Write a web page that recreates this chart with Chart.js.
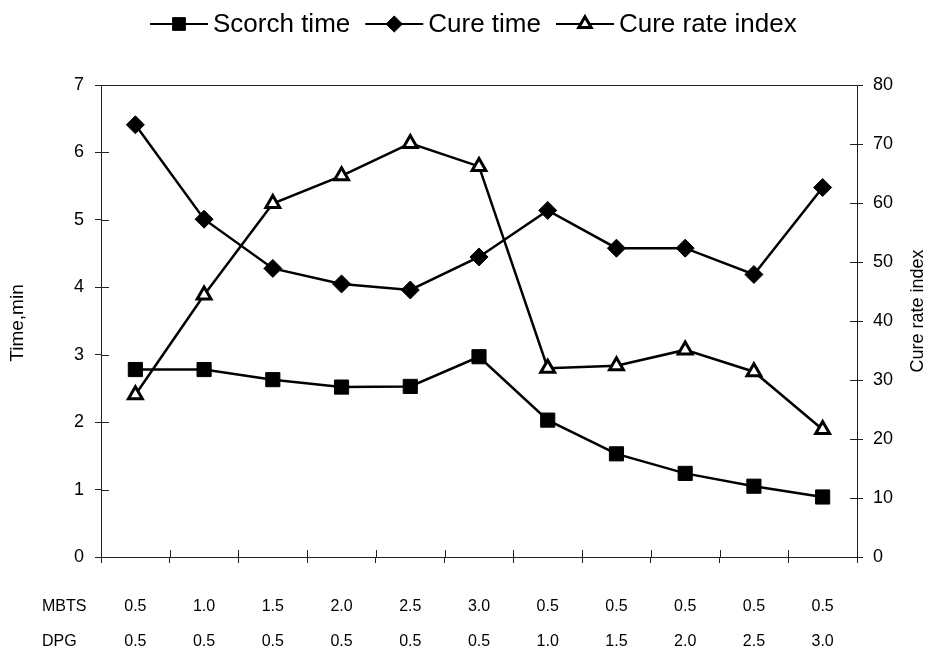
<!DOCTYPE html>
<html>
<head>
<meta charset="utf-8">
<script src="https://cdn.jsdelivr.net/npm/chart.js@4/dist/chart.umd.min.js"></script>
<style>
  html, body { margin: 0; padding: 0; background: #fff; }
  #wrap { width: 931px; height: 659px; position: relative; }
</style>
</head>
<body>
<div id="wrap"><canvas id="c" width="931" height="659"></canvas></div>
<script>
// ---- data ----
const mbts = ['0.5', '1.0', '1.5', '2.0', '2.5', '3.0', '0.5', '0.5', '0.5', '0.5', '0.5'];
const dpg  = ['0.5', '0.5', '0.5', '0.5', '0.5', '0.5', '1.0', '1.5', '2.0', '2.5', '3.0'];
const scorchTime = [2.78, 2.78, 2.63, 2.52, 2.53, 2.97, 2.03, 1.53, 1.24, 1.05, 0.89];
const cureTime   = [6.41, 5.01, 4.28, 4.05, 3.96, 4.45, 5.14, 4.58, 4.58, 4.19, 5.48];
const cureRateIndex = [27.5, 44.4, 59.9, 64.6, 70.1, 66.2, 32.0, 32.4, 35.1, 31.4, 21.6];
const rowHeaders = ['MBTS', 'DPG'];
const leftTitle = 'Time,min';
const rightTitle = 'Cure rate index';

const FONT = '"Liberation Sans", Arial, sans-serif';
const labels = mbts.map((m, i) => [m, dpg[i]]);

// custom legend + decorations
const decor = {
  id: 'decor',
  afterDraw(chart) {
    const ctx = chart.ctx;
    const ca = chart.chartArea;
    const x = chart.scales.x, y = chart.scales.y, y1 = chart.scales.y1;
    ctx.save();
    // plot border
    ctx.strokeStyle = '#222';
    ctx.lineWidth = 1;
    ctx.strokeRect(ca.left + 0.5, ca.top + 0.5, ca.right - ca.left, ca.bottom - ca.top);
    // inner tick parts
    ctx.beginPath();
    y.ticks.forEach(t => {
      const py = Math.round(y.getPixelForValue(t.value)) + 0.5;
      ctx.moveTo(ca.left, py); ctx.lineTo(ca.left + 8, py);
    });
    y1.ticks.forEach(t => {
      const py = Math.round(y1.getPixelForValue(t.value)) + 0.5;
      ctx.moveTo(ca.right, py); ctx.lineTo(ca.right - 7, py);
    });
    for (let i = 1; i < labels.length; i++) {
      const px = Math.round((x.getPixelForValue(i - 1) + x.getPixelForValue(i)) / 2) + 0.5;
      ctx.moveTo(px, ca.bottom); ctx.lineTo(px, ca.bottom - 7);
    }
    ctx.stroke();

    // row headers for x labels
    ctx.fillStyle = '#000';
    ctx.font = '16px ' + FONT;
    ctx.textAlign = 'left';
    ctx.textBaseline = 'middle';
    ctx.fillText(rowHeaders[0], 42, ca.bottom + 50);
    ctx.fillText(rowHeaders[1], 42, ca.bottom + 85);

    // axis titles
    ctx.textAlign = 'center';
    ctx.font = '19px ' + FONT;
    ctx.save();
    ctx.translate(18, (ca.top + ca.bottom) / 2 + 2);
    ctx.rotate(-Math.PI / 2);
    ctx.fillText(leftTitle, 0, 0);
    ctx.restore();
    ctx.font = '18px ' + FONT;
    ctx.save();
    ctx.translate(918, (ca.top + ca.bottom) / 2 - 10);
    ctx.rotate(-Math.PI / 2);
    ctx.fillText(rightTitle, 0, 0);
    ctx.restore();

    // legend
    ctx.font = '26px ' + FONT;
    ctx.textAlign = 'left';
    ctx.textBaseline = 'middle';
    const ly = 24;
    let lx = 150;
    chart.data.datasets.forEach((ds, i) => {
      const lw = 58;
      ctx.strokeStyle = '#000';
      ctx.lineWidth = 2;
      ctx.beginPath();
      ctx.moveTo(lx, ly); ctx.lineTo(lx + lw, ly);
      ctx.stroke();
      const opts = {
        pointStyle: ds.pointStyle,
        radius: ds.pointRadius * 0.9,
        rotation: 0,
        borderWidth: ds.pointBorderWidth
      };
      ctx.fillStyle = ds.pointBackgroundColor;
      ctx.strokeStyle = ds.pointBorderColor;
      ctx.lineWidth = ds.pointBorderWidth;
      Chart.helpers.drawPoint(ctx, opts, lx + lw / 2, ly);
      ctx.fillStyle = '#000';
      ctx.fillText(ds.label, lx + lw + 5, ly + 1);
      lx += lw + 5 + ctx.measureText(ds.label).width + 15;
    });
    ctx.restore();
  }
};

new Chart(document.getElementById('c'), {
  type: 'line',
  data: {
    labels: labels,
    datasets: [
      {
        label: 'Scorch time', data: scorchTime, yAxisID: 'y',
        borderColor: '#000', borderWidth: 2.5,
        pointStyle: 'rect', pointRadius: 10, pointHoverRadius: 10,
        pointBackgroundColor: '#000', pointBorderColor: '#000', pointBorderWidth: 1,
        tension: 0
      },
      {
        label: 'Cure time', data: cureTime, yAxisID: 'y',
        borderColor: '#000', borderWidth: 2.5,
        pointStyle: 'rectRot', pointRadius: 9, pointHoverRadius: 9,
        pointBackgroundColor: '#000', pointBorderColor: '#000', pointBorderWidth: 1,
        tension: 0
      },
      {
        label: 'Cure rate index', data: cureRateIndex, yAxisID: 'y1',
        borderColor: '#000', borderWidth: 2.5,
        pointStyle: 'triangle', pointRadius: 8, pointHoverRadius: 8,
        pointBackgroundColor: '#fff', pointBorderColor: '#000', pointBorderWidth: 3,
        tension: 0
      }
    ]
  },
  options: {
    responsive: false,
    animation: false,
    events: [],
    layout: { padding: { top: 85, left: 0, right: 0, bottom: 0 } },
    plugins: { legend: { display: false }, tooltip: { enabled: false }, title: { display: false } },
    scales: {
      x: {
        type: 'category',
        offset: true,
        grid: { display: true, drawOnChartArea: false, drawTicks: true, tickLength: 6, color: '#222', offset: true },
        border: { display: true, color: '#222', width: 1 },
        ticks: {
          color: '#000', font: { family: FONT, size: 16, lineHeight: 2.19 },
          padding: 26, maxRotation: 0, autoSkip: false
        },
        afterFit(s) { s.height = 102; }
      },
      y: {
        position: 'left', min: 0, max: 7,
        grid: { display: true, drawOnChartArea: false, drawTicks: true, tickLength: 6, color: '#222' },
        border: { display: true, color: '#222', width: 1 },
        ticks: { stepSize: 1, color: '#000', font: { family: FONT, size: 18 }, padding: 11 },
        afterFit(s) { s.width = 101; }
      },
      y1: {
        position: 'right', min: 0, max: 80,
        grid: { display: true, drawOnChartArea: false, drawTicks: true, tickLength: 6, color: '#222' },
        border: { display: true, color: '#222', width: 1 },
        ticks: { stepSize: 10, color: '#000', font: { family: FONT, size: 18 }, padding: 10 },
        afterFit(s) { s.width = 74; }
      }
    }
  },
  plugins: [decor]
});
</script>
</body>
</html>
